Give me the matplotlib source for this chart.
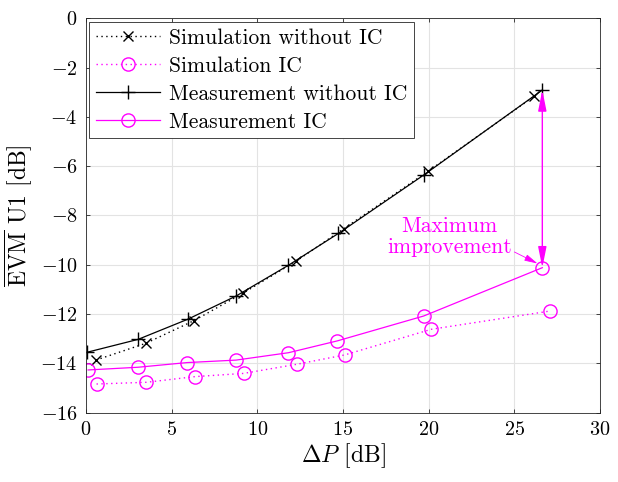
import matplotlib
matplotlib.use("Agg")
import matplotlib.pyplot as plt

# power offset [dB] and EVM of user 1 [dB]
sim_noic_x = [0.58, 3.49, 6.30, 9.15, 12.25, 15.04, 19.96, 26.16]
sim_noic_y = [-13.87, -13.19, -12.27, -11.16, -9.86, -8.54, -6.21, -3.16]

sim_ic_x = [0.62, 3.53, 6.37, 9.20, 12.30, 15.10, 20.15, 27.07]
sim_ic_y = [-14.84, -14.77, -14.54, -14.41, -14.04, -13.66, -12.62, -11.88]

meas_noic_x = [0.08, 3.04, 5.95, 8.76, 11.82, 14.73, 19.73, 26.63]
meas_noic_y = [-13.55, -13.03, -12.21, -11.27, -10.02, -8.73, -6.35, -2.91]

meas_ic_x = [0.13, 3.04, 5.91, 8.76, 11.82, 14.67, 19.71, 26.63]
meas_ic_y = [-14.27, -14.16, -13.97, -13.87, -13.57, -13.09, -12.08, -10.12]

MAG = "#ff00ff"

plt.rcParams.update({
    "font.family": "serif",
    "font.serif": ["cmr10", "DejaVu Serif"],
    "mathtext.fontset": "cm",
    "axes.unicode_minus": False,
    "axes.formatter.use_mathtext": True,
})

fig = plt.figure(figsize=(6.18, 4.82), dpi=100)
ax = fig.add_axes([0.139, 0.144, 0.832, 0.818])

ax.plot(sim_noic_x, sim_noic_y, ls=(0, (1, 2.5)), color="k", lw=1.0, marker="x",
        ms=7, mew=1.0, label="Simulation without IC")
ax.plot(sim_ic_x, sim_ic_y, ls=(0, (1, 2.5)), color=MAG, lw=1.0, marker="o",
        ms=9.5, mew=1.0, mfc="none", label="Simulation IC")
ax.plot(meas_noic_x, meas_noic_y, ls="-", color="k", lw=0.9, marker="+",
        ms=10, mew=1.0, label="Measurement without IC")
ax.plot(meas_ic_x, meas_ic_y, ls="-", color=MAG, lw=0.9, marker="o",
        ms=9.5, mew=1.0, mfc="none", label="Measurement IC")

# gap between the two measurements at the largest power offset
ax.annotate("", xy=(meas_noic_x[-1], meas_noic_y[-1]),
            xytext=(meas_ic_x[-1], meas_ic_y[-1]),
            arrowprops=dict(arrowstyle="<|-|>,head_length=0.9,head_width=0.18",
                            color=MAG, lw=1.0,
                            mutation_scale=14, shrinkA=0, shrinkB=0))
ax.annotate("Maximum\nimprovement", xy=(26.35, -9.95), xytext=(21.2, -8.85),
            ha="center", va="center", color=MAG, fontsize=15.5,
            linespacing=1.1,
            arrowprops=dict(arrowstyle="-|>,head_length=0.8,head_width=0.2",
                            color=MAG, lw=0.6,
                            mutation_scale=10, shrinkA=0, shrinkB=0,
                            relpos=(1.0, 0.15)))

ax.set_xlim(0, 30)
ax.set_ylim(-16, 0)
ax.set_xticks(range(0, 31, 5))
ax.set_yticks(range(-16, 1, 2))
ax.grid(True, color="#e3e3e3", lw=0.8)
ax.set_axisbelow(True)
ax.tick_params(direction="in", top=True, right=True, labelsize=14.5,
               length=3, width=0.6, color="#262626", pad=6)
for s in ax.spines.values():
    s.set_linewidth(0.6)
    s.set_color("#262626")

ax.set_xlabel(r"$\Delta P$ [dB]", fontsize=17, labelpad=2)
ax.set_ylabel(r"$\overline{\mathrm{EVM}}$ U1 [dB]", fontsize=17, labelpad=4)

leg = ax.legend(loc="upper left", fontsize=15.5, handlelength=3.0,
                labelspacing=0.4, borderaxespad=0.15, handletextpad=0.4,
                borderpad=0.3, fancybox=False, framealpha=1.0,
                edgecolor="#262626")
leg.get_frame().set_linewidth(0.6)

fig.savefig("out.png", dpi=100)
